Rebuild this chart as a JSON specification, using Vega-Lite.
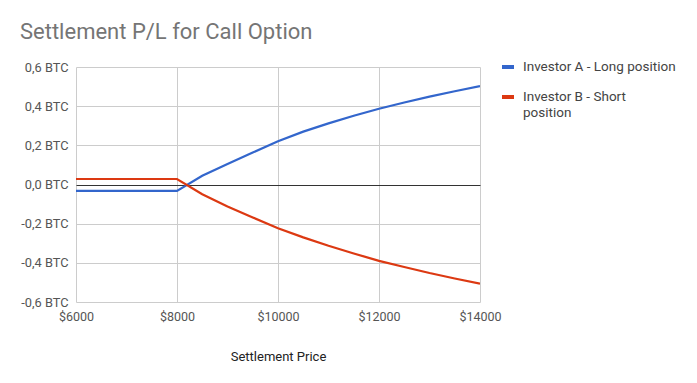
{
  "$schema": "https://vega.github.io/schema/vega-lite/v6.json",
  "width": 404,
  "height": 235,
  "autosize": {"type": "none"},
  "padding": {"left": 76, "top": 67, "right": 217, "bottom": 81},
  "background": "white",
  "title": {
    "text": "Settlement P/L for Call Option",
    "anchor": "start",
    "frame": "group",
    "dx": -56,
    "offset": 15,
    "font": "Roboto",
    "fontSize": 22,
    "fontWeight": "normal",
    "color": "#757575"
  },
  "config": {
    "view": {"stroke": null},
    "font": "Roboto"
  },
  "datasets": {
    "pl": [
      {"price": 6000, "pl": -0.033, "series": "Investor A - Long position"},
      {"price": 7000, "pl": -0.033, "series": "Investor A - Long position"},
      {"price": 8000, "pl": -0.033, "series": "Investor A - Long position"},
      {"price": 8500, "pl": 0.045, "series": "Investor A - Long position"},
      {"price": 9000, "pl": 0.105, "series": "Investor A - Long position"},
      {"price": 9500, "pl": 0.163, "series": "Investor A - Long position"},
      {"price": 10000, "pl": 0.221, "series": "Investor A - Long position"},
      {"price": 10500, "pl": 0.27, "series": "Investor A - Long position"},
      {"price": 11000, "pl": 0.312, "series": "Investor A - Long position"},
      {"price": 11500, "pl": 0.351, "series": "Investor A - Long position"},
      {"price": 12000, "pl": 0.387, "series": "Investor A - Long position"},
      {"price": 12500, "pl": 0.419, "series": "Investor A - Long position"},
      {"price": 13000, "pl": 0.449, "series": "Investor A - Long position"},
      {"price": 13500, "pl": 0.476, "series": "Investor A - Long position"},
      {"price": 14000, "pl": 0.502, "series": "Investor A - Long position"},
      {"price": 6000, "pl": 0.028, "series": "Investor B - Short position"},
      {"price": 7000, "pl": 0.028, "series": "Investor B - Short position"},
      {"price": 8000, "pl": 0.028, "series": "Investor B - Short position"},
      {"price": 8500, "pl": -0.05, "series": "Investor B - Short position"},
      {"price": 9000, "pl": -0.112, "series": "Investor B - Short position"},
      {"price": 9500, "pl": -0.168, "series": "Investor B - Short position"},
      {"price": 10000, "pl": -0.223, "series": "Investor B - Short position"},
      {"price": 10500, "pl": -0.27, "series": "Investor B - Short position"},
      {"price": 11000, "pl": -0.313, "series": "Investor B - Short position"},
      {"price": 11500, "pl": -0.352, "series": "Investor B - Short position"},
      {"price": 12000, "pl": -0.39, "series": "Investor B - Short position"},
      {"price": 12500, "pl": -0.421, "series": "Investor B - Short position"},
      {"price": 13000, "pl": -0.452, "series": "Investor B - Short position"},
      {"price": 13500, "pl": -0.48, "series": "Investor B - Short position"},
      {"price": 14000, "pl": -0.506, "series": "Investor B - Short position"}
    ]
  },
  "data": {"name": "pl"},
  "mark": {"type": "line", "strokeWidth": 2.2, "clip": true},
  "encoding": {
    "x": {
      "field": "price",
      "type": "quantitative",
      "scale": {"domain": [6000, 14000], "nice": false, "zero": false},
      "axis": {
        "title": "Settlement Price",
        "titleFont": "Roboto",
        "titleFontSize": 13,
        "titleFontWeight": "normal",
        "titleColor": "#222222",
        "titlePadding": 28,
        "values": [6000, 8000, 10000, 12000, 14000],
        "labelExpr": "'$' + format(datum.value, 'd')",
        "labelFont": "Roboto",
        "labelFontSize": 12.5,
        "labelColor": "#555555",
        "labelPadding": 8,
        "labelFlush": false,
        "labelOverlap": false,
        "labelBound": false,
        "ticks": false,
        "domain": false,
        "grid": true,
        "gridColor": "#cccccc",
        "gridWidth": 1
      }
    },
    "y": {
      "field": "pl",
      "type": "quantitative",
      "scale": {"domain": [-0.6, 0.6], "nice": false},
      "axis": {
        "title": null,
        "values": [-0.6, -0.4, -0.2, 0, 0.2, 0.4, 0.6],
        "labelExpr": "replace((datum.value < -0.0001 ? '-' : '') + format(abs(datum.value), '.1f'), '.', ',') + ' BTC'",
        "labelFont": "Roboto",
        "labelFontSize": 12.8,
        "labelColor": "#555555",
        "labelPadding": 8,
        "labelFlush": false,
        "labelOverlap": false,
        "labelBound": false,
        "ticks": false,
        "domain": false,
        "grid": true,
        "gridColor": {"condition": {"test": "abs(datum.value) < 0.0001", "value": "#333333"}, "value": "#cccccc"},
        "gridWidth": 1
      }
    },
    "color": {
      "field": "series",
      "type": "nominal",
      "scale": {
        "domain": ["Investor A - Long position", "Investor B - Short position"],
        "range": ["#3366cc", "#dc3912"]
      },
      "legend": {
        "title": null,
        "orient": "none",
        "legendX": 424,
        "legendY": -8,
        "symbolType": "stroke",
        "symbolStrokeWidth": 4,
        "symbolSize": 144,
        "labelFont": "Roboto",
        "labelFontSize": 13.5,
        "labelColor": "#444444",
        "labelOffset": 7,
        "labelLineHeight": 17,
        "rowPadding": 14,
        "labelLimit": 200,
        "labelExpr": "datum.label == 'Investor B - Short position' ? ['Investor B - Short', 'position'] : datum.label"
      }
    }
  }
}
